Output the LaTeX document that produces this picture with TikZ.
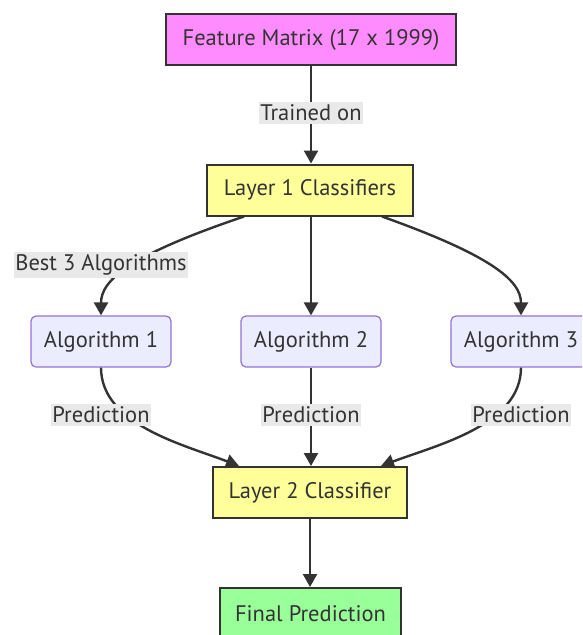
\documentclass[tikz,border=0pt]{standalone}
\usepackage{fontspec}
\setmainfont{PT Sans}
\usetikzlibrary{arrows.meta}
\definecolor{ink}{HTML}{333333}
\definecolor{pinkfill}{HTML}{FF8CFF}
\definecolor{yellowfill}{HTML}{FFFF99}
\definecolor{greenfill}{HTML}{99FF99}
\definecolor{algfill}{HTML}{ECECFF}
\definecolor{algline}{HTML}{9370DB}
\definecolor{lblfill}{HTML}{E9E9E9}
\tikzset{
  txt/.style={text=ink, font=\fontsize{22.5}{26}\selectfont},
  box/.style={txt, draw=ink, line width=2pt, minimum height=51pt, inner sep=0pt},
  algbox/.style={txt, draw=algline, line width=1.2pt, fill=algfill, rounded corners=5pt,
    minimum width=140pt, minimum height=51pt, inner sep=0pt},
  lbl/.style={txt, fill=lblfill, inner xsep=1.5pt, inner ysep=3pt},
  link/.style={draw=ink, line width=2.4pt, -{Triangle[length=13pt,width=14pt]}},
}
\begin{document}
\begin{tikzpicture}[x=1pt,y=-1pt]
\useasboundingbox (0,0) rectangle (582,635);
\clip (0,0) rectangle (582,635);
% nodes
\node[box, fill=pinkfill, minimum width=290pt] (fm) at (311,39.5) {Feature Matrix (17 x 1999)};
\node[box, fill=yellowfill, minimum width=206pt] (l1) at (310,190) {Layer 1 Classifiers};
\node[algbox] (a1) at (101,341.5) {Algorithm 1};
\node[algbox] (a2) at (311,341.5) {Algorithm 2};
\node[algbox] (a3) at (521,341.5) {Algorithm 3};
\node[box, fill=yellowfill, minimum width=194pt] (l2) at (310,492.5) {Layer 2 Classifier};
\node[box, fill=greenfill, minimum width=181pt] (fp) at (310.5,613.5) {Final Prediction};
% connectors
\draw[link] (fm.south) -- (fm.south |- l1.north);
\draw[link] (l1.south -| a2.north) -- (a2.north);
\draw[link] (l1.south west) ++(38,0) coordinate (s1) (s1) .. controls (130,255) and (101,280) .. (a1.north);
\draw[link] (l1.south east) ++(-32,0) coordinate (s3) (s3) .. controls (490,255) and (521,280) .. (a3.north);
\draw[link] (a1.south) .. controls (101,425) and (185,445) .. ([xshift=27pt]l2.north west);
\draw[link] (a2.south) -- (a2.south |- l2.north);
\draw[link] (a3.south) .. controls (521,425) and (437,445) .. ([xshift=-27pt]l2.north east);
\draw[link] (l2.south) -- (l2.south |- fp.north);
% labels
\node[lbl] (t1) at (311,113) {Trained on};
\node[lbl] (t2) at (101,265) {Best 3 Algorithms};
\node[lbl] (t3) at (101,415) {Prediction};
\node[lbl] (t4) at (311,415) {Prediction};
\node[lbl] (t5) at (521,415) {Prediction};
\end{tikzpicture}
\end{document}
